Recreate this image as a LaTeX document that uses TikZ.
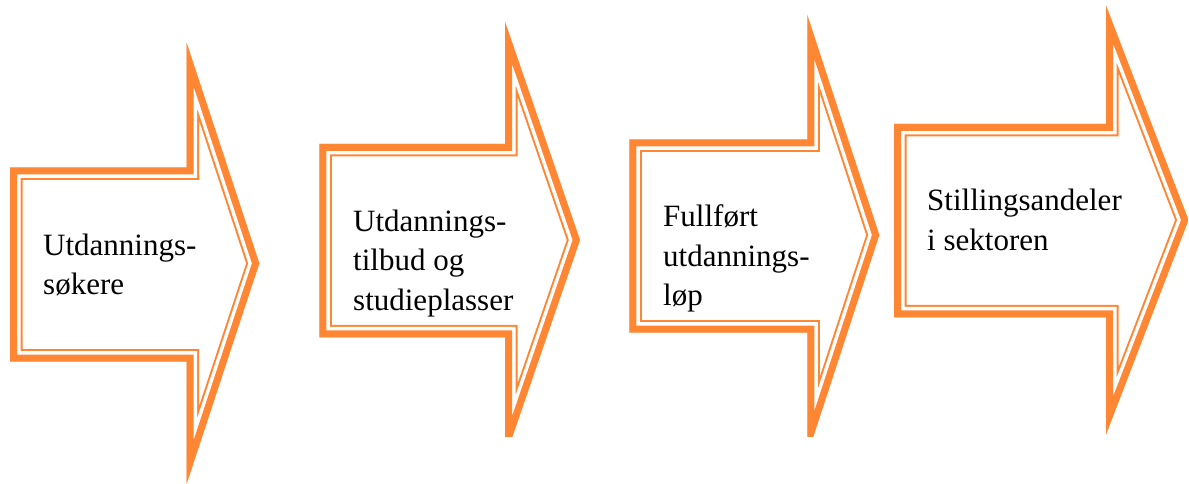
\documentclass[tikz,border=0pt]{standalone}
\usepackage{fontspec}
\setmainfont{LiberationSerif}[Extension=.ttf, UprightFont=*-Regular, BoldFont=*-Bold]
\definecolor{arrowor}{RGB}{255,134,51}
\tikzset{
  lbl/.style={anchor=base west, inner sep=0pt, text=black, font=\rmfamily\fontsize{31}{39}\selectfont},
  bandouter/.style={draw=arrowor, line width=25pt, line join=miter, miter limit=20},
  bandgap/.style={draw=white, line width=21pt, line join=miter, miter limit=20},
  bandinner/.style={draw=arrowor, line width=14pt, line join=miter, miter limit=20},
}
% #1 L, #2 T, #3 B, #4 N, #5 head top, #6 tip y, #7 head bottom, #8 tip x
\newcommand{\arrowpath}[8]{(#1,#2) -- (#4,#2) -- (#4,#5) -- (#8,#6) -- (#4,#7) -- (#4,#3) -- (#1,#3) -- cycle}
\newcommand{\bandarrow}[8]{%
  \begin{scope}
    \clip \arrowpath{#1}{#2}{#3}{#4}{#5}{#6}{#7}{#8};
    \path[fill=white] \arrowpath{#1}{#2}{#3}{#4}{#5}{#6}{#7}{#8};
    \path[bandouter] \arrowpath{#1}{#2}{#3}{#4}{#5}{#6}{#7}{#8};
    \path[bandgap] \arrowpath{#1}{#2}{#3}{#4}{#5}{#6}{#7}{#8};
    \path[bandinner] \arrowpath{#1}{#2}{#3}{#4}{#5}{#6}{#7}{#8};
  \end{scope}}
\begin{document}
\begin{tikzpicture}[x=1pt,y=-1pt]
\useasboundingbox (0,0) rectangle (1189,484);
\fill[white] (0,0) rectangle (1189,484);
% arrow 1
\bandarrow{10}{167.5}{361.7}{186.7}{43}{263.3}{483.6}{259.3}
% arrows 2 and 3, cut at the bottom
\begin{scope}
  \clip (0,0) rectangle (1189,436.6);
  \bandarrow{319.3}{144}{337.3}{505}{21.7}{240}{458.3}{580}
  \bandarrow{629.3}{139.3}{332.7}{807.3}{15}{235}{455}{879.3}
\end{scope}
% arrow 4
\bandarrow{894}{124}{317.3}{1106}{5.5}{220}{434.5}{1188.5}
% texts
\node[lbl] (t1a) at (43,255) {Utdannings-};
\node[lbl] (t1b) at (43,294) {søkere};
\node[lbl] (t2a) at (353,231) {Utdannings-};
\node[lbl] (t2b) at (353,270.5) {tilbud og};
\node[lbl] (t2c) at (353,310.5) {studieplasser};
\node[lbl] (t3a) at (663,226.5) {Fullført};
\node[lbl] (t3b) at (663,266.5) {utdannings-};
\node[lbl] (t3c) at (663,305.5) {løp};
\node[lbl] (t4a) at (927,210.5) {Stillingsandeler};
\node[lbl] (t4b) at (927,250.5) {i sektoren};
\end{tikzpicture}
\end{document}
